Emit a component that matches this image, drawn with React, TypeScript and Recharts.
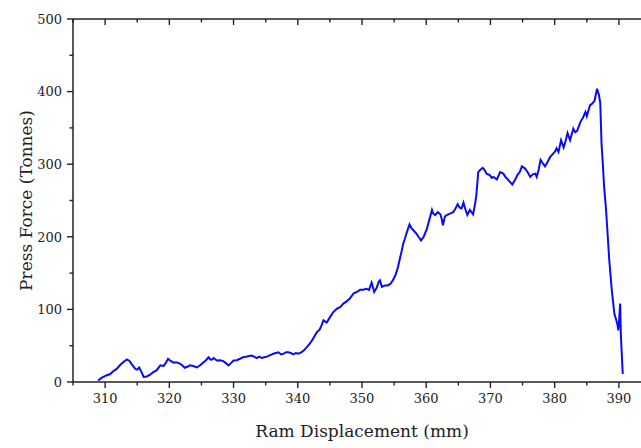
import React from 'react'
import { LineChart, Line, XAxis, YAxis } from 'recharts'

// ram displacement (mm) and press force (tonnes)
const displacement = [
  308.9, 309.5, 310.2, 310.8, 311.3, 311.8, 312.3, 312.9, 313.4, 313.8, 314.1, 314.7, 315.0, 315.3, 315.6,
  316.0, 316.5, 317.0, 317.5, 318.0, 318.6, 319.1, 319.5, 319.8, 320.2, 320.6, 321.2, 321.7, 322.0, 322.4,
  322.8, 323.2, 323.7, 324.3, 324.8, 325.3, 325.7, 326.1, 326.4, 326.6, 326.9, 327.4, 327.9, 328.4, 328.8,
  329.2, 329.6, 330.0, 330.5, 331.0, 331.5, 332.1, 332.8, 333.2, 333.6, 334.0, 334.4, 334.8, 335.2, 335.7,
  336.2, 336.6, 337.0, 337.4, 337.8, 338.2, 338.5, 338.9, 339.3, 339.7, 340.1, 340.6, 341.0, 341.4, 341.8,
  342.2, 342.6, 343.0, 343.4, 343.7, 344.0, 344.5, 345.0, 345.5, 346.1, 346.6, 347.1, 347.6, 348.1, 348.7,
  349.2, 349.7, 350.2, 350.7, 351.1, 351.5, 351.9, 352.3, 352.6, 352.8, 353.1, 353.6, 354.0, 354.4, 354.8,
  355.2, 355.6, 355.9, 356.2, 356.4, 356.7, 356.9, 357.2, 357.4, 357.7, 358.0, 358.5, 358.8, 359.2, 359.6,
  360.1, 360.5, 360.9, 361.1, 361.4, 361.8, 362.2, 362.4, 362.6, 362.9, 363.2, 363.7, 364.2, 364.5, 364.9,
  365.2, 365.5, 365.8, 366.1, 366.4, 366.8, 367.3, 367.6, 367.8, 368.1, 368.4, 368.8, 369.1, 369.4, 369.9,
  370.2, 370.5, 371.0, 371.3, 371.5, 372.0, 372.3, 372.6, 373.0, 373.4, 373.8, 374.2, 374.6, 374.9, 375.4,
  375.8, 376.2, 376.6, 377.0, 377.2, 377.5, 377.8, 378.1, 378.5, 378.9, 379.3, 379.8, 380.1, 380.3, 380.6,
  381.0, 381.4, 381.7, 382.0, 382.4, 382.9, 383.2, 383.5, 384.0, 384.4, 384.8, 385.0, 385.5, 385.9, 386.2,
  386.6, 386.9, 387.1, 387.3, 387.5, 387.7, 388.0, 388.2, 388.5, 388.9, 389.1, 389.3, 389.6, 389.8, 389.9,
  390.0, 390.2, 390.3, 390.6,
]
const force = [
  2, 6, 9, 11, 15, 18, 23, 28, 31, 29, 25, 18, 17, 20, 15,
  7, 7.6, 10, 13.5, 16, 23, 22, 27, 32, 29, 27, 27, 25, 23, 19.6,
  21, 23, 22, 20, 23, 27, 30, 34, 31, 30.6, 33, 29.7, 30, 28.7, 26,
  22.8, 26, 29.7, 30, 32, 34, 35, 36.5, 35, 33, 35, 33, 34, 35, 37,
  39, 40, 41, 38, 39, 41, 41, 40, 38, 40, 39, 41, 44, 48, 52,
  57, 63, 69, 72, 78, 85, 82, 89, 96, 101, 103, 108, 111, 115, 122,
  124, 127, 127, 128.5, 127, 137, 124, 130, 138, 140, 131, 133, 133, 135, 140,
  147, 158, 170, 181, 190, 198, 204, 212, 217, 212, 209, 204, 200, 195, 200,
  211, 224, 237, 232, 230, 234, 231, 225, 216, 228, 230, 232, 234, 238, 245,
  240, 239, 247, 238, 230, 237, 231, 245, 257, 289, 292, 295, 292, 287, 285,
  281, 282.5, 279, 285, 289, 287, 283, 280, 276, 272, 278, 285, 290, 297, 294,
  289, 282.5, 286, 287, 282.5, 292, 306, 302, 297, 303, 310, 315, 318, 322, 317,
  333, 323, 332, 343, 333, 349, 344, 346, 358, 364, 372, 366, 381, 384, 387,
  404, 395, 384, 328, 300, 269, 237, 210, 168, 126, 110, 94, 85, 78, 71,
  80, 108, 66, 11,
]

const xTicks = [305, 310, 315, 320, 325, 330, 335, 340, 345, 350, 355, 360, 365, 370, 375, 380, 385, 390, 395]
const yTicks = [0, 50, 100, 150, 200, 250, 300, 350, 400, 450, 500]

const data = displacement.map((d, i) => ({ d, f: force[i] }))

const FONT = '"DejaVu Serif", "Liberation Serif", serif'
const INK = '#222'

const BottomTick = ({ x, y, payload }: any) => {
  const major = payload.value % 10 === 0
  return (
    <g>
      <line x1={x} x2={x} y1={y} y2={y + (major ? 6 : 3.5)} stroke={INK} strokeWidth={1.4} />
      {major && (
        <text x={x} y={y + 21} textAnchor="middle" fontFamily={FONT} fontSize={13} fill={INK}>
          {payload.value}
        </text>
      )}
    </g>
  )
}

const TopTick = ({ x, y, payload }: any) => {
  const major = payload.value % 10 === 0
  return <line x1={x} x2={x} y1={y} y2={y + (major ? 6 : 3.5)} stroke={INK} strokeWidth={1.4} />
}

const LeftTick = ({ x, y, payload }: any) => {
  const major = payload.value % 100 === 0
  return (
    <g>
      <line x1={x - (major ? 6 : 3.5)} x2={x} y1={y} y2={y} stroke={INK} strokeWidth={1.4} />
      {major && (
        <text x={x - 11} y={y + 4.7} textAnchor="end" fontFamily={FONT} fontSize={13} fill={INK}>
          {payload.value}
        </text>
      )}
    </g>
  )
}

export default function App() {
  return (
    <div style={{ position: 'absolute', left: 0, top: 0, width: 641, height: 448, overflow: 'hidden', background: '#fff' }}>
      <LineChart width={660} height={448} data={data} margin={{ top: 18, right: 9, left: 0, bottom: 0 }}>
        <XAxis
          dataKey="d"
          type="number"
          domain={[305, 395]}
          ticks={xTicks}
          interval={0}
          tickSize={0}
          tickMargin={0}
          height={66}
          tick={<BottomTick />}
          axisLine={{ stroke: INK, strokeWidth: 1.5 }}
          tickLine={false}
          label={{
            content: ({ viewBox }: any) => (
              <text
                x={viewBox.x + viewBox.width / 2}
                y={viewBox.y + 55}
                textAnchor="middle"
                fontFamily={FONT}
                fontSize={17}
                fill={INK}
              >
                Ram Displacement (mm)
              </text>
            ),
          }}
        />
        <XAxis
          xAxisId="top"
          orientation="top"
          dataKey="d"
          type="number"
          domain={[305, 395]}
          ticks={xTicks}
          interval={0}
          tickSize={0}
          tickMargin={0}
          height={1}
          tick={<TopTick />}
          axisLine={{ stroke: INK, strokeWidth: 1.5 }}
          tickLine={false}
        />
        <YAxis
          type="number"
          domain={[0, 500]}
          ticks={yTicks}
          interval={0}
          tickSize={0}
          tickMargin={0}
          width={73}
          tick={<LeftTick />}
          axisLine={{ stroke: INK, strokeWidth: 1.5 }}
          tickLine={false}
          label={{
            content: ({ viewBox }: any) => (
              <text
                transform={`translate(26, ${viewBox.y + viewBox.height / 2}) rotate(-90)`}
                textAnchor="middle"
                dominantBaseline="central"
                fontFamily={FONT}
                fontSize={17}
                fill={INK}
              >
                Press Force (Tonnes)
              </text>
            ),
          }}
        />
        <Line
          dataKey="f"
          type="linear"
          stroke="#0a0af5"
          strokeWidth={2}
          dot={false}
          isAnimationActive={false}
        />
      </LineChart>
    </div>
  )
}
